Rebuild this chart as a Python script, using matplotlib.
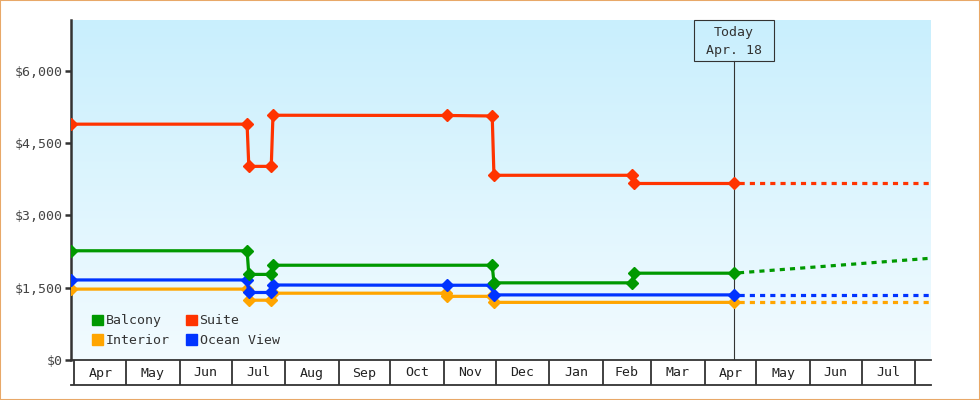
import matplotlib
matplotlib.use("Agg")
import matplotlib.dates as mdates
import matplotlib.pyplot as plt
import matplotlib.transforms as mtransforms
import numpy as np
import pandas as pd
from matplotlib.colors import LinearSegmentedColormap
from matplotlib.patches import Patch, Rectangle
from matplotlib.ticker import FuncFormatter

plt.rcParams["font.family"] = ["DejaVu Sans Mono"]

# price history (solid) up to today
balcony_dates = ["2014-03-30", "2014-07-10", "2014-07-11", "2014-07-24", "2014-07-25",
                 "2014-11-29", "2014-11-30", "2015-02-18", "2015-02-19", "2015-04-18"]
balcony = [2265, 2265, 1775, 1775, 1965, 1965, 1600, 1600, 1800, 1800]

suite_dates = ["2014-03-30", "2014-07-10", "2014-07-11", "2014-07-24", "2014-07-25",
               "2014-11-03", "2014-11-29", "2014-11-30", "2015-02-18", "2015-02-19",
               "2015-04-18"]
suite = [4890, 4890, 4015, 4015, 5075, 5070, 5060, 3830, 3830, 3660, 3660]

ocean_dates = ["2014-03-30", "2014-07-10", "2014-07-11", "2014-07-24", "2014-07-25",
               "2014-11-03", "2014-11-29", "2014-11-30", "2015-04-18"]
ocean = [1660, 1660, 1400, 1400, 1555, 1550, 1550, 1350, 1350]

interior_dates = ["2014-03-30", "2014-07-10", "2014-07-11", "2014-07-24", "2014-07-25",
                  "2014-11-02", "2014-11-03", "2014-11-29", "2014-11-30", "2015-04-18"]
interior = [1470, 1470, 1240, 1240, 1385, 1385, 1320, 1320, 1195, 1195]

# forecast (dotted) from today to end of range
forecast_dates = ["2015-04-18", "2015-08-10"]
balcony_fc = [1800, 2110]
suite_fc = [3660, 3660]
ocean_fc = [1350, 1350]
interior_fc = [1195, 1195]

today = "2015-04-18"
today_label = "Today\nApr. 18"

month_starts = ["2014-04-01", "2014-05-01", "2014-06-01", "2014-07-01", "2014-08-01",
                "2014-09-01", "2014-10-01", "2014-11-01", "2014-12-01", "2015-01-01",
                "2015-02-01", "2015-03-01", "2015-04-01", "2015-05-01", "2015-06-01",
                "2015-07-01", "2015-08-01"]
month_labels = ["Apr", "May", "Jun", "Jul", "Aug", "Sep", "Oct", "Nov", "Dec",
                "Jan", "Feb", "Mar", "Apr", "May", "Jun", "Jul"]

y_ticks = [0, 1500, 3000, 4500, 6000]

X_START, X_END = "2014-03-30", "2015-08-10"
Y_MAX = 7050

COLORS = {
    "Balcony": "#009900",
    "Interior": "#ffa500",
    "Suite": "#ff3300",
    "Ocean View": "#0033ff",
}
INK = "#333333"


def to_num(dates):
    return mdates.date2num(pd.to_datetime(dates))


fig = plt.figure(figsize=(9.8, 4), dpi=100)
fig.patch.set_facecolor("white")
ax = fig.add_axes([71 / 980, 40 / 400, (930.7 - 71) / 980, 340 / 400])

# background gradient
cmap = LinearSegmentedColormap.from_list("bg", ["#c9effd", "#f2fbff"])
ax.imshow(np.linspace(0, 1, 256).reshape(-1, 1), cmap=cmap, aspect="auto",
          extent=[0, 1, 0, 1], transform=ax.transAxes, zorder=0)

series = [
    ("Balcony", balcony_dates, balcony, balcony_fc),
    ("Suite", suite_dates, suite, suite_fc),
    ("Ocean View", ocean_dates, ocean, ocean_fc),
    ("Interior", interior_dates, interior, interior_fc),
]
for order, (name, dates, vals, fc) in enumerate(series[::-1]):
    c = COLORS[name]
    ax.plot(to_num(dates), vals, color=c, lw=2.3, marker="D", ms=6.5,
            solid_joinstyle="miter", zorder=3 + order)
    ax.plot(to_num(forecast_dates), fc, color=c, lw=2.3,
            linestyle=(1.6, (1.6, 1.6)), zorder=3 + order)

ax.set_xlim(to_num([X_START])[0], to_num([X_END])[0])
ax.set_ylim(0, Y_MAX)

# today marker
today_x = to_num([today])[0]
box_bottom = (360 - 60.7) / 340
ax.axvline(today_x, ymin=0, ymax=box_bottom, color=INK, lw=0.8, zorder=2)
blend = mtransforms.blended_transform_factory(ax.transData, ax.transAxes)
half_w = 40 / (859.7 / (to_num([X_END])[0] - to_num([X_START])[0]))
ax.add_patch(Rectangle((today_x - half_w, box_bottom), 2 * half_w, 1 - box_bottom,
                       transform=blend, fill=False, ec=INK, lw=0.8,
                       clip_on=False, zorder=6))
line1, line2 = today_label.split("\n")
ax.text(today_x, (360 - 32.3) / 340, line1, transform=blend, ha="center",
        va="center", fontsize=9.5, color=INK)
ax.text(today_x, (360 - 50.3) / 340, line2, transform=blend, ha="center",
        va="center", fontsize=9.5, color=INK)

# y axis
ax.set_yticks(y_ticks)
ax.yaxis.set_major_formatter(FuncFormatter(lambda v, p: f"${v:,.0f}"))
ax.tick_params(axis="y", direction="out", length=4, width=1.8, color=INK,
               labelcolor="#444444", labelsize=9.5, pad=2)
ax.set_xticks([])
for s in ["top", "right"]:
    ax.spines[s].set_visible(False)
ax.spines["left"].set_linewidth(1.8)
ax.spines["left"].set_color(INK)
ax.spines["bottom"].set_linewidth(1.3)
ax.spines["bottom"].set_color(INK)

# month cells under the axis
cell_y = -25 / 340
starts = to_num(month_starts)
for d in starts:
    ax.plot([d, d], [0, cell_y], transform=blend, color=INK, lw=1.3,
            clip_on=False, solid_capstyle="butt")
ax.plot(ax.get_xlim(), [cell_y, cell_y], transform=blend, color=INK, lw=1.3,
        clip_on=False)
for a, b, lab in zip(starts[:-1], starts[1:], month_labels):
    ax.text((a + b) / 2, -13 / 340, lab, transform=blend, ha="center",
            va="center", fontsize=9.5, color="#222222")

# legend
handles = [Patch(color=COLORS[n], label=n)
           for n in ["Balcony", "Interior", "Suite", "Ocean View"]]
ax.legend(handles=handles, ncol=2, loc="lower left", frameon=False,
          bbox_to_anchor=((92 - 71) / 859.7, (360 - 347) / 340),
          borderpad=0, borderaxespad=0, fontsize=9.5, labelcolor=INK,
          handlelength=0.85, handleheight=0.85, handletextpad=0.2,
          labelspacing=0.5, columnspacing=1.2)

# outer border
fig.add_artist(Rectangle((0, 0), 1, 1, transform=fig.transFigure, fill=False,
                         ec="#e8a868", lw=1.5))

fig.savefig("out.png", dpi=100)
